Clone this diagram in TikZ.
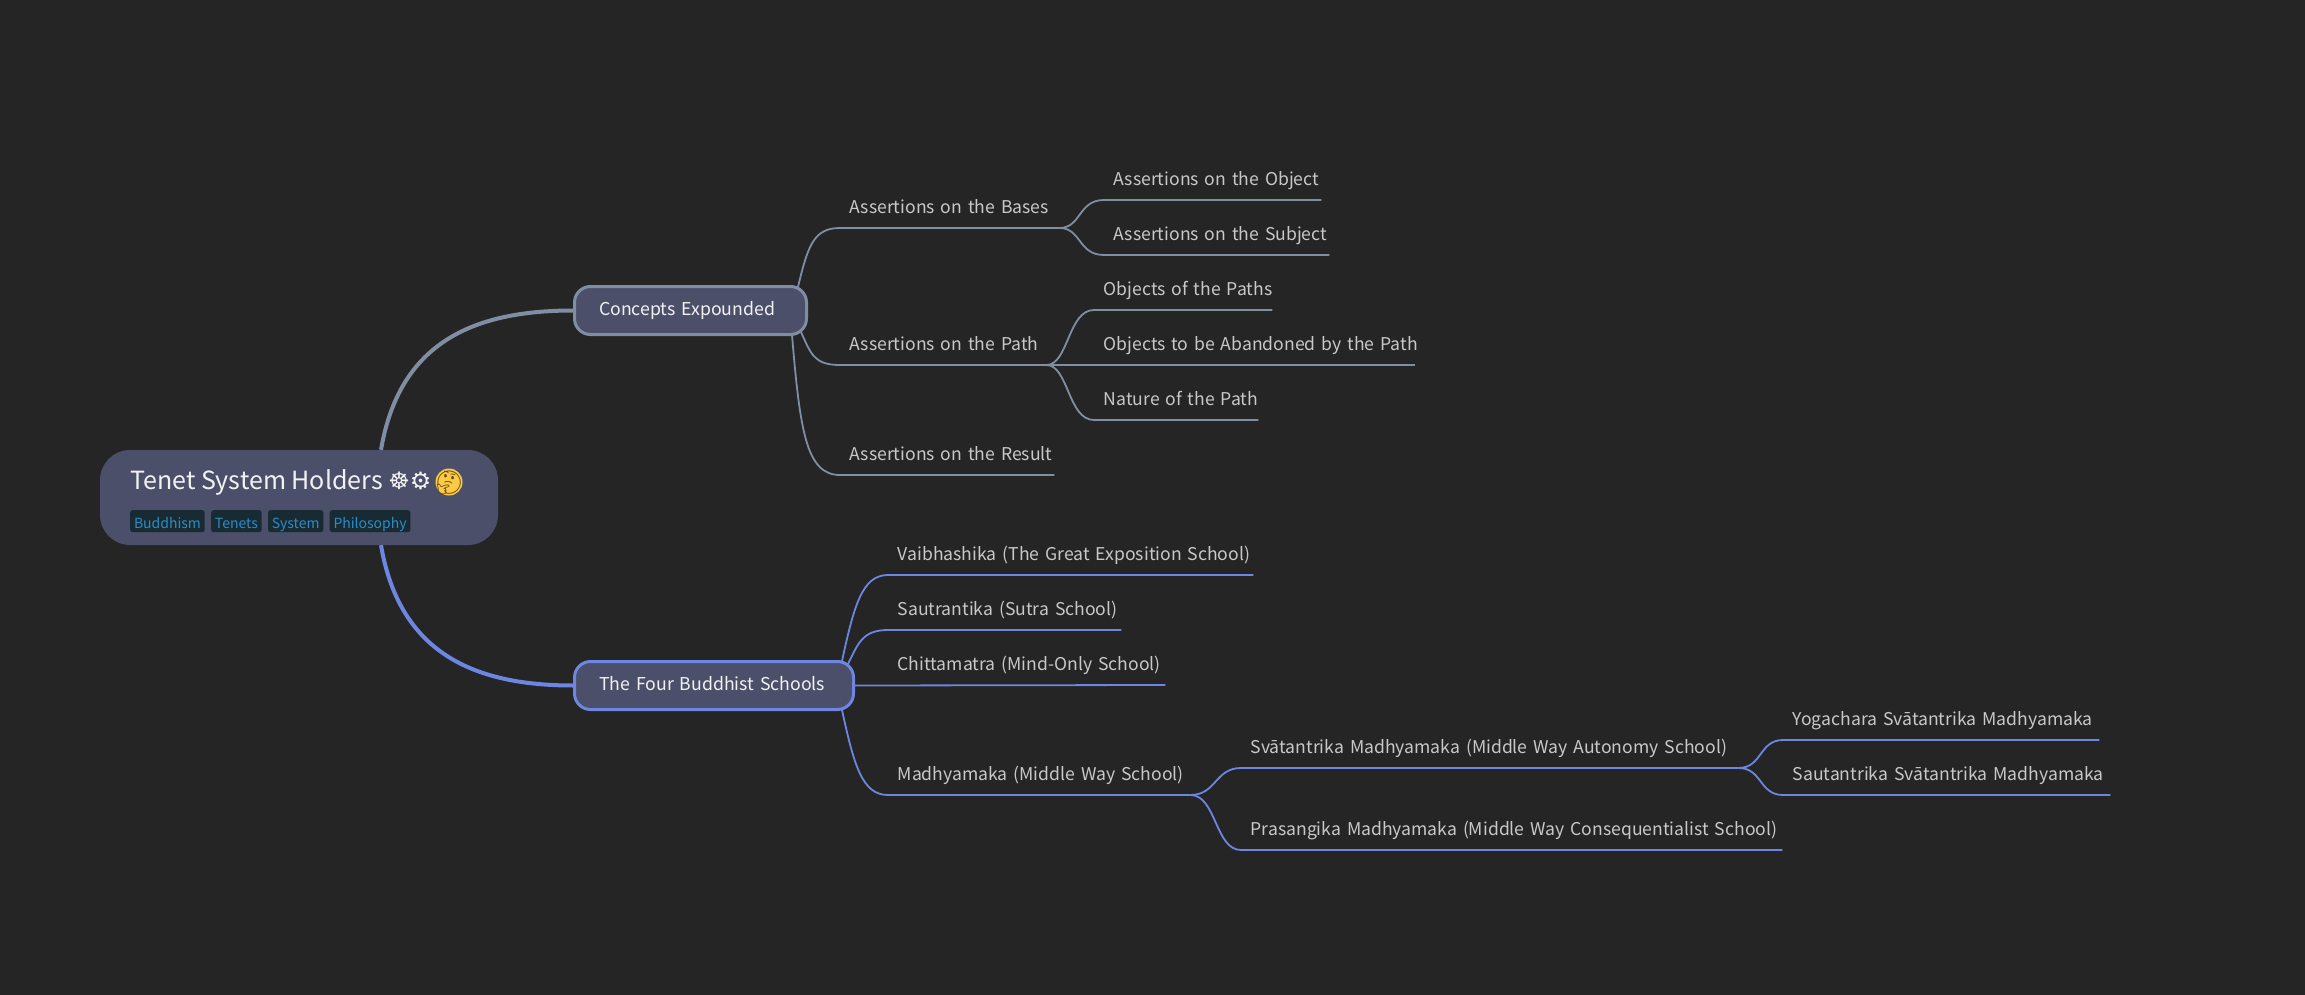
\documentclass[tikz,border=0pt]{standalone}
\usepackage{fontspec}
\setmainfont{Noto Sans CJK SC}
\newfontfamily\emojifont{Noto Emoji}
\newfontfamily\symbolfont{DejaVu Sans}
\usetikzlibrary{positioning}
\definecolor{bgdark}{HTML}{252525}
\definecolor{nodefill}{HTML}{4C4F69}
\definecolor{leaftext}{HTML}{C8C8C8}
\definecolor{greyedge}{HTML}{7F8EA3}
\definecolor{blueedge}{HTML}{6C86E2}
\definecolor{tagfill}{HTML}{182B33}
\definecolor{tagtext}{HTML}{2E8BC6}
\definecolor{thinkface}{HTML}{FBCB45}
\definecolor{thinkline}{HTML}{6B4A12}

\tikzstyle{root} = [rectangle, fill=nodefill, rounded corners=30pt, minimum width=398pt, minimum height=95pt]
\tikzstyle{title} = [anchor=base west, inner sep=0pt, text=white!95!black, font=\fontsize{25pt}{30pt}\selectfont]
\tikzstyle{tag} = [rectangle, fill=tagfill, rounded corners=2.5pt, text=tagtext, inner xsep=3.8pt, inner ysep=0pt, text height=17pt, text depth=3pt, minimum height=22pt, font=\fontsize{14pt}{18pt}\selectfont]
\tikzstyle{branch} = [rectangle, draw, fill=nodefill, line width=3pt, rounded corners=16pt, text=white!95!black, align=left, inner xsep=16pt, inner ysep=0pt, text height=15pt, text depth=6pt, minimum height=48pt, font=\fontsize{17.7pt}{22pt}\selectfont, execute at begin node=\hspace*{8.5pt}]
\tikzstyle{leaf} = [anchor=south west, inner sep=0pt, text=leaftext, text depth=14pt, font=\fontsize{17.6pt}{22pt}\selectfont, execute at begin node=\hbox to 0pt\bgroup\hspace*{9.5pt}, execute at end node=\hss\egroup]
\tikzstyle{greyline} = [draw=greyedge, line width=1.8pt]
\tikzstyle{blueline} = [draw=blueedge, line width=1.8pt]

\begin{document}
\begin{tikzpicture}[x=1pt, y=-1pt]

	% Background
	\fill [bgdark] (0,0) rectangle (2305,995);

	% Place nodes
	\node [root] 										(root) 		at (299,497.5) 	{};
	\node [title] 										(rootname) 	at (130,489) 	{Tenet System Holders {\symbolfont\fontsize{24pt}{26pt}\selectfont ☸⚙}};
	\node [circle, fill=thinkface, inner sep=0pt, minimum size=27pt, text=thinkline, font=\emojifont\fontsize{23pt}{26pt}\selectfont] (think) at (449,482) {\smash{\makebox[0pt]{\raisebox{-.36em}{🤔}}}};
	\node [tag, anchor=north west] 						(buddhism) 	at (130,510) 	{Buddhism};
	\node [tag, right=6pt of buddhism] 					(tenets) 					{Tenets};
	\node [tag, right=6pt of tenets] 					(system) 					{System};
	\node [tag, right=6pt of system] 					(philosophy) 				{Philosophy};

	\node [branch, draw=greyedge, text width=200pt] 	(concepts) 	at (690.5,310.5) {Concepts Expounded};
	\node [leaf, text width=219pt] 						(bases) 	at (840,228) 	{Assertions on the Bases};
	\node [leaf, text width=217pt] 						(object) 	at (1104,200) 	{Assertions on the Object};
	\node [leaf, text width=225pt] 						(subject) 	at (1104,255) 	{Assertions on the Subject};
	\node [leaf, text width=206pt] 						(pathn) 	at (840,365) 	{Assertions on the Path};
	\node [leaf, text width=178pt] 						(objects) 	at (1094,310) 	{Objects of the Paths};
	\node [leaf, text width=321pt] 						(abandon) 	at (1094,365) 	{Objects to be Abandoned by the Path};
	\node [leaf, text width=164pt] 						(nature) 	at (1094,420) 	{Nature of the Path};
	\node [leaf, text width=214pt] 						(result) 	at (840,475) 	{Assertions on the Result};

	\node [branch, draw=blueedge, text width=247pt] 	(four) 		at (714,685.5) 	{The Four Buddhist Schools};
	\node [leaf, text width=365pt] 						(vaib) 		at (888,575) 	{Vaibhashika (The Great Exposition School)};
	\node [leaf, text width=233pt] 						(sautra) 	at (888,630) 	{Sautrantika (Sutra School)};
	\node [leaf, text width=277pt] 						(chitta) 	at (888,685) 	{Chittamatra (Mind-Only School)};
	\node [leaf, text width=302pt] 						(madhya) 	at (888,795) 	{Madhyamaka (Middle Way School)};
	\node [leaf, text width=497pt] 						(svatan) 	at (1241,768) 	{Svātantrika Madhyamaka (Middle Way Autonomy School)};
	\node [leaf, text width=541pt] 						(prasan) 	at (1241,850) 	{Prasangika Madhyamaka (Middle Way Consequentialist School)};
	\node [leaf, text width=316pt] 						(yoga) 		at (1783,740) 	{Yogachara Svātantrika Madhyamaka};
	\node [leaf, text width=327pt] 						(sauta) 	at (1783,795) 	{Sautantrika Svātantrika Madhyamaka};

	%Draw edges
	\path [greyline, line width=4pt] ([xshift=82pt]root.north) .. controls +(18,-105) and +(-103,0) .. (concepts.west);
	\path [blueline, line width=4pt] ([xshift=82pt]root.south) .. controls +(18,105) and +(-103,0) .. (four.west);

	\path [greyline] ([xshift=-10pt,yshift=-2pt]concepts.north east) .. controls +(10,-42) and +(-26,0) .. (bases.south west) -- (bases.south east);
	\path [greyline] ([xshift=-7pt,yshift=4pt]concepts.south east) .. controls +(10,22) and +(-26,0) .. (pathn.south west) -- (pathn.south east);
	\path [greyline] ([xshift=-16pt,yshift=1pt]concepts.south east) .. controls +(8,95) and +(-34,0) .. (result.south west) -- (result.south east);
	\path [greyline] (bases.south east) .. controls +(22,0) and +(-26,0) .. (object.south west) -- (object.south east);
	\path [greyline] (bases.south east) .. controls +(22,0) and +(-26,0) .. (subject.south west) -- (subject.south east);
	\path [greyline] (pathn.south east) .. controls +(22,0) and +(-26,0) .. (objects.south west) -- (objects.south east);
	\path [greyline] (pathn.south east) -- (abandon.south east);
	\path [greyline] (pathn.south east) .. controls +(22,0) and +(-26,0) .. (nature.south west) -- (nature.south east);

	\path [blueline] ([xshift=-13pt,yshift=-1pt]four.north east) .. controls +(12,-55) and +(-26,0) .. (vaib.south west) -- (vaib.south east);
	\path [blueline] ([xshift=-7pt,yshift=-4pt]four.north east) .. controls +(10,-20) and +(-26,0) .. (sautra.south west) -- (sautra.south east);
	\path [blueline] (four.east) -- (chitta.south east);
	\path [blueline] ([xshift=-13pt,yshift=1pt]four.south east) .. controls +(12,55) and +(-26,0) .. (madhya.south west) -- (madhya.south east);
	\path [blueline] (madhya.south east) .. controls +(26,0) and +(-26,0) .. (svatan.south west) -- (svatan.south east);
	\path [blueline] (madhya.south east) .. controls +(26,0) and +(-26,0) .. (prasan.south west) -- (prasan.south east);
	\path [blueline] (svatan.south east) .. controls +(24,0) and +(-24,0) .. (yoga.south west) -- (yoga.south east);
	\path [blueline] (svatan.south east) .. controls +(24,0) and +(-24,0) .. (sauta.south west) -- (sauta.south east);

\end{tikzpicture}
\end{document}
